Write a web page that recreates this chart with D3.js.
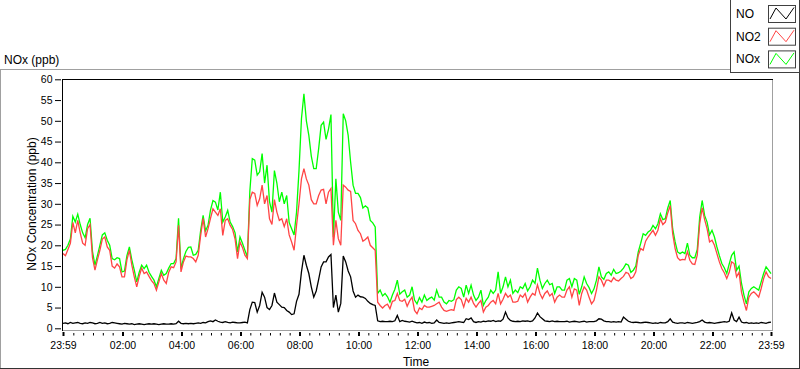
<!DOCTYPE html>
<html>
<head>
<meta charset="utf-8">
<script src="https://cdn.jsdelivr.net/npm/d3@7/dist/d3.min.js"></script>
<style>
  body { margin: 0; background: #fff; }
  svg { display: block; font-family: "Liberation Sans", Arial, sans-serif; }
</style>
</head>
<body>
<script>
// one sample every 5 minutes, 23:59 -> 23:59 next day
var stepMinutes = 5;

var seriesNames = ["NO", "NO2", "NOx"];
var seriesColors = ["#000000", "#ff4545", "#00ff00"];

var yTickValues = [0, 5, 10, 15, 20, 25, 30, 35, 40, 45, 50, 55, 60];
var xTickLabels = ["23:59", "02:00", "04:00", "06:00", "08:00", "10:00", "12:00",
                   "14:00", "16:00", "18:00", "20:00", "22:00", "23:59"];

var noValues = [
  1.2,1.3,1.1,1.4,1.2,1.3,1.4,1.2,1.1,1.3,1.2,1.4,
  1.3,1.1,1.2,1.4,1.2,1.3,1.1,1.2,1.4,1.3,1.2,1.1,
  1.0,1.2,1.1,1.0,1.1,0.9,1.0,1.1,1.0,0.9,1.0,1.1,
  1.0,1.1,1.0,0.9,1.0,1.1,1.0,1.0,1.1,1.0,1.1,1.7,
  1.2,1.1,1.2,1.1,1.2,1.1,1.2,1.3,1.2,1.4,1.3,1.6,
  1.8,1.6,2.0,1.7,1.5,1.4,1.6,1.4,1.3,1.5,1.4,1.3,
  1.3,1.4,1.5,1.3,4.5,6.3,6.2,3.9,5.5,8.7,7.5,5.0,
  4.5,5.5,8.5,6.3,5.7,5.1,5.0,4.3,3.9,3.3,3.5,6.5,
  8.2,13.6,17.6,15.2,13.2,10.0,7.5,9.0,11.8,14.8,16.0,16.0,
  17.2,17.8,5.0,8.0,3.9,6.0,17.4,16.0,13.8,12.4,9.0,7.5,
  8.0,7.6,7.5,7.2,6.5,6.0,5.7,5.5,1.8,1.6,1.7,1.6,
  1.6,1.7,1.6,1.8,3.1,1.6,1.9,1.7,1.6,1.5,1.7,1.5,
  1.3,1.4,1.2,1.5,1.3,1.4,1.2,1.3,2.0,1.4,1.3,1.2,
  1.3,1.2,1.3,1.4,1.5,1.6,1.5,1.4,2.3,2.1,2.5,1.6,
  1.4,1.6,1.5,1.7,1.6,1.8,1.7,1.9,1.6,1.8,1.7,2.2,
  3.9,2.5,1.9,1.7,1.6,1.7,1.6,1.8,1.7,1.8,1.6,1.8,
  2.5,3.7,2.8,2.3,1.8,1.7,1.6,1.8,1.6,1.7,1.6,1.6,
  1.6,1.7,1.5,1.6,1.7,1.6,1.5,1.6,1.7,1.5,1.6,1.6,
  1.6,1.8,2.3,2.2,1.8,1.6,1.6,1.5,1.6,1.5,1.6,1.5,
  2.7,2.2,1.7,1.5,1.4,1.5,1.4,1.3,1.4,1.5,1.4,1.3,
  1.2,1.3,1.2,1.4,1.3,1.3,1.6,2.3,1.5,1.3,1.2,1.3,
  1.3,1.2,1.4,1.3,1.2,1.3,1.4,1.6,2.0,1.5,1.3,1.4,
  1.3,1.2,1.3,1.4,1.5,1.6,1.5,1.7,3.7,2.0,1.6,2.7,
  1.5,1.3,1.4,1.2,1.3,1.2,1.3,1.2,1.4,1.3,1.2,1.4,1.5
];

var no2Values = [
  18,17.5,19,20.5,25.5,23,26,23,20.5,20,24,25,
  17,14,16.5,18.8,21.5,22,19.6,18.8,15,14.5,15.5,14.8,
  12.4,12.4,16.5,18.8,15.2,12.4,10,12.5,14.5,13.2,13.6,12.5,
  11.5,10.8,9.2,11.2,13.2,11.6,10.8,13.5,14.8,14.6,16,24.8,
  13.6,16,17.4,17.2,17.2,16.8,16,17.6,22.4,26.5,22,24,
  26.5,28.8,28,27.2,28.8,22.4,26,26.4,24.8,23.8,21.5,16.8,
  20.8,19.5,17.6,16.8,31,32.8,32.5,29.6,31.2,34.5,30,32,
  26.4,25,31,28,26,26.4,24.5,26.4,22.5,20.8,18.8,24.8,
  30,36,38.5,36,34.5,31,30,30,32,33.3,33.5,30,
  32.8,33.7,20,26,21.6,20,34.5,34,33.3,33,26,25.2,
  23.6,22.8,21,21.4,22,20,19.4,18.8,6.3,5.5,4.9,5.5,
  5.8,4.7,6.5,6.7,8.4,6.7,6.5,7,5.3,6.6,7.5,4.3,
  3.5,4.9,4.5,5.5,5.1,5.1,5.3,5.5,5.9,6.3,5.1,4.3,
  4.1,4.3,4.5,4.3,6.9,7.5,6.9,5.1,7.2,6.3,7.5,6,
  5.1,6,6.7,3.9,5.1,5.5,6.3,6.7,5.9,8.4,5.9,7,
  8.4,7.5,8,6.3,6.3,6.5,8,7.5,8.4,6.3,7.5,8.4,
  8,10.5,8.4,7.2,8.4,9,7.8,8.4,6.3,7.5,8,7.5,
  7.5,9.2,10,7.5,9.5,9.2,5.5,8.4,10,9.2,7.5,5.9,
  6.7,9.2,12.4,11.6,10.2,11.6,11.6,11.2,12.2,11.6,11.4,12,
  12.5,13.5,13.2,12,12.4,13.6,17.6,19.2,18.8,21,22,22.8,
  23.6,22.4,23.6,26.4,25,25.6,27.8,29.6,22.8,19.2,17,16.4,
  16.6,16.5,18.5,16.4,15.5,15.4,17.6,25.2,29,26.2,24,20.8,
  21.2,20,18,16,14.4,13.4,12,13.5,16,15.6,12.4,13.5,
  8.7,6.3,4.3,7.5,8.4,8.8,8.2,7.5,9.6,12,13.6,12.4,12
];

var noxValues = [
  18.8,19.0,20.0,21.5,27.0,25.6,27.5,25.0,23.0,21.8,25.0,26.5,
  18.5,15.2,17.5,20.0,22.5,23.0,21.2,20.0,16.8,16.5,17.0,16.8,
  13.6,13.8,17.5,19.6,16.5,14.0,11.2,13.5,15.2,14.4,15.2,13.5,
  12.5,11.6,10.0,12.0,14.0,12.8,13.2,14.5,15.6,15.6,16.8,26.5,
  14.4,16.8,18.5,19.5,19.6,17.6,17.8,18.8,23.6,27.2,23.5,24.8,
  28.5,30.8,30.4,28.5,32.8,25.6,26.8,28.4,25.6,24.5,23.0,18.4,
  22.0,20.5,18.8,17.2,33.0,40.9,40.5,36.9,37.7,42.1,35.0,39.3,
  30.5,28.0,38.0,35.0,30.5,32.8,30.0,32.0,25.5,24.0,22.5,28.0,
  38.0,50.5,56.5,50.0,46.5,41.5,38.5,38.5,43.3,48.9,49.7,45.5,
  48.0,51.5,22.0,36.0,28.0,26.0,51.7,50.0,46.5,40.0,34.5,32.5,
  32.5,31.5,29.0,29.5,29.0,26.0,25.4,24.4,8.4,9.2,7.8,8.4,
  7.6,6.3,8.0,9.4,11.6,8.2,8.8,9.2,7.5,8.0,10.0,6.8,
  5.9,7.4,6.3,8.0,6.7,7.2,7.5,6.8,9.2,7.5,7.5,6.3,
  5.9,6.7,6.5,6.9,9.2,10.0,9.6,7.5,10.4,8.4,10.4,8.0,
  6.7,7.5,9.2,5.5,6.7,7.5,9.2,8.4,9.2,13.6,8.4,10.0,
  12.4,10.0,11.6,8.4,9.2,8.6,10.0,9.6,10.8,9.0,10.0,11.6,
  10.8,14.5,11.6,9.6,10.8,11.6,10.5,10.8,8.4,10.0,10.0,9.2,
  9.2,11.6,12.0,10.0,12.0,11.6,8.2,10.0,12.4,10.8,9.8,8.4,
  9.5,11.6,14.8,12.4,11.8,13.2,13.6,12.8,14.2,13.2,13.4,13.8,
  14.5,15.5,15.2,13.5,14.0,15.0,18.4,20.5,22.8,22.4,23.2,23.6,
  24.8,24.0,25.2,27.6,26.2,26.4,29.0,30.8,24.0,20.8,18.4,18.0,
  18.4,18.0,20.5,17.6,17.0,17.0,19.0,26.8,30.8,27.2,25.6,22.5,
  23.6,22.0,19.6,17.5,15.6,14.6,13.2,15.5,17.6,18.4,14.0,15.0,
  10.8,8.0,5.9,8.8,9.6,10.0,9.6,9.2,11.2,13.2,14.8,14.0,13.2
];

var width = 800;
var height = 369;

var startTime = new Date(2000, 0, 1, 23, 59);
var endTime = d3.timeMinute.offset(startTime, 24 * 60);

function sampleTime(i){
    return d3.timeMinute.offset(startTime, i * stepMinutes);
}

// turn "HH:MM" labels into dates, rolling to the next day after the first
function labelToTime(label, i){
    if(i == 0) return startTime;
    var parts = label.split(":");
    return new Date(2000, 0, 2, +parts[0], +parts[1]);
}

var svg = d3.select("body").append("svg")
    .attr("width", width)
    .attr("height", height);

// outer control frame
svg.append("line").attr("x1", 0).attr("y1", 69.5).attr("x2", 730).attr("y2", 69.5).attr("stroke", "#a0a0a0");
svg.append("line").attr("x1", 0.5).attr("y1", 69).attr("x2", 0.5).attr("y2", 369).attr("stroke", "#a0a0a0");
svg.append("line").attr("x1", 0).attr("y1", 368.5).attr("x2", 800).attr("y2", 368.5).attr("stroke", "#333");
svg.append("line").attr("x1", 799.5).attr("y1", 0).attr("x2", 799.5).attr("y2", 369).attr("stroke", "#333");

var x = d3.scaleTime().domain([startTime, endTime]).range([63, 771]);
var y = d3.scaleLinear().domain([0, 60]).range([328.3, 79.3]);

// plot area border (dark top/left, grey right/bottom)
svg.append("line").attr("x1", 62).attr("y1", 79.5).attr("x2", 773).attr("y2", 79.5).attr("stroke", "#000");
svg.append("line").attr("x1", 62.5).attr("y1", 79).attr("x2", 62.5).attr("y2", 331).attr("stroke", "#000");
svg.append("line").attr("x1", 772.5).attr("y1", 80).attr("x2", 772.5).attr("y2", 331).attr("stroke", "#a0a0a0");
svg.append("line").attr("x1", 63).attr("y1", 330.5).attr("x2", 773).attr("y2", 330.5).attr("stroke", "#a0a0a0");

svg.append("clipPath").attr("id", "plot-clip")
    .append("rect").attr("x", 63).attr("y", 80).attr("width", 709).attr("height", 250);

var line = d3.line()
    .x(function(d, i){ return x(sampleTime(i)); })
    .y(function(d){ return y(d); });

var plot = svg.append("g").attr("clip-path", "url(#plot-clip)");
var drawOrder = [[noxValues, seriesColors[2]], [no2Values, seriesColors[1]], [noValues, seriesColors[0]]];
drawOrder.forEach(function(s){
    plot.append("path")
        .datum(s[0])
        .attr("fill", "none")
        .attr("stroke", s[1])
        .attr("stroke-width", 1.3)
        .attr("stroke-linejoin", "miter")
        .attr("d", line);
});

// y axis
var yAxis = svg.append("g")
    .attr("transform", "translate(61,0)")
    .call(d3.axisLeft(y).tickValues(yTickValues).tickSize(6).tickPadding(2.5));
yAxis.select(".domain").remove();
yAxis.selectAll("line").attr("stroke", "#000");
yAxis.selectAll("text").attr("font-size", 10.5).attr("fill", "#000")
    .attr("font-family", "Liberation Sans, Arial, sans-serif");

// x axis: minor ticks every 20 min, major ticks on the labels
var majorTimes = xTickLabels.map(labelToTime);
var minorTimes = d3.timeMinute.every(20).range(startTime, endTime).filter(function(t){
    return t.getMinutes() != 0 || t.getHours() % 2 != 0;
});

var xMinor = svg.append("g")
    .attr("transform", "translate(0,333)")
    .call(d3.axisBottom(x).tickValues(minorTimes).tickSize(2.5).tickFormat(""));
xMinor.select(".domain").remove();
xMinor.selectAll("line").attr("stroke", "#000");

var xAxis = svg.append("g")
    .attr("transform", "translate(0,332)")
    .call(d3.axisBottom(x).tickValues(majorTimes).tickSize(4).tickPadding(6)
        .tickFormat(function(d, i){ return xTickLabels[i]; }));
xAxis.select(".domain").remove();
xAxis.selectAll("line").attr("stroke", "#000").attr("stroke-width", 2);
xAxis.selectAll("text").attr("font-size", 10.5).attr("fill", "#000")
    .attr("font-family", "Liberation Sans, Arial, sans-serif");

// titles
svg.append("text").attr("x", 4).attr("y", 64).attr("font-size", 12).text("NOx (ppb)");
svg.append("text").attr("x", 416).attr("y", 366).attr("font-size", 12)
    .attr("text-anchor", "middle").text("Time");
svg.append("text")
    .attr("transform", "translate(35.5,204) rotate(-90)")
    .attr("font-size", 12)
    .attr("text-anchor", "middle")
    .text("NOx Concentration (ppb)");

// legend
var legend = svg.append("g");
legend.append("rect").attr("x", 730.5).attr("y", -1).attr("width", 69).attr("height", 73.5)
    .attr("fill", "#fff").attr("stroke", "#404040");
seriesNames.forEach(function(name, i){
    var top = 5 + i * 22.7;
    legend.append("text").attr("x", 736).attr("y", top + 13).attr("font-size", 12).text(name);
    legend.append("rect").attr("x", 768.5).attr("y", top + 0.5).attr("width", 27).attr("height", 17)
        .attr("fill", "#fff").attr("stroke", "#404040");
    legend.append("polyline")
        .attr("points", [[770, top + 14], [776, top + 3], [786, top + 14], [794, top + 2.5]].join(" "))
        .attr("fill", "none").attr("stroke", seriesColors[i]).attr("stroke-width", 1);
});
</script>
</body>
</html>
